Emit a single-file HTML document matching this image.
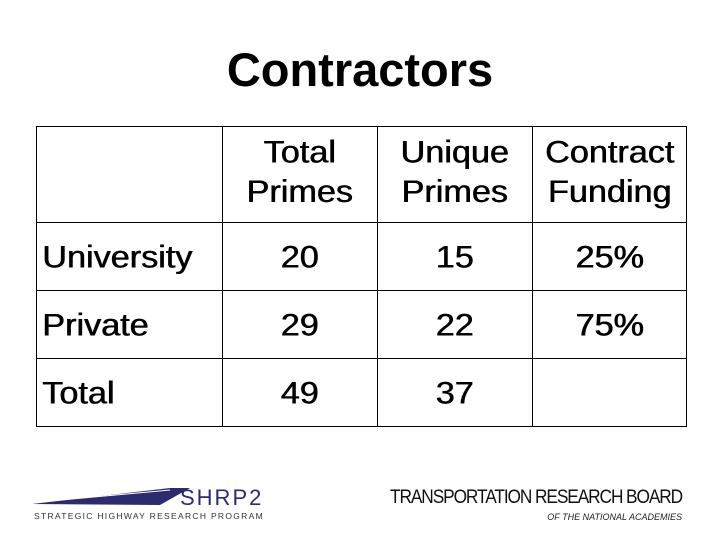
<!DOCTYPE html>
<html><head><meta charset="utf-8"><style>
body{margin:0;width:720px;height:540px;background:#fff;position:relative;overflow:hidden;font-family:"Liberation Sans",Arial,sans-serif;color:#000}
.t{position:absolute;left:0;width:720px;top:44px;text-align:center;font-size:47px;font-weight:bold;line-height:52px}
.c{position:absolute;font-size:30px;line-height:35px;text-align:center;transform:scaleX(1.14) scaleY(1.04);transform-origin:center;text-shadow:0.6px 0 0 #000}
.l{text-align:left;transform-origin:left}
.hl{position:absolute;height:1px;background:#000;left:36px;width:651px}
.vl{position:absolute;width:1px;background:#000;top:126px;height:301px}
.h{line-height:38px}
</style></head><body>
<div class="t">Contractors</div>
<div>
<div class="hl" style="top:126px"></div><div class="hl" style="top:222px"></div><div class="hl" style="top:290px"></div><div class="hl" style="top:358px"></div><div class="hl" style="top:426px"></div>
<div class="vl" style="left:36px"></div><div class="vl" style="left:222px"></div><div class="vl" style="left:377px"></div><div class="vl" style="left:532px"></div><div class="vl" style="left:686px"></div>
<div class="c h" style="left:222px;width:155px;top:135px">Total<br>Primes</div>
<div class="c h" style="left:377px;width:155px;top:135px">Unique<br>Primes</div>
<div class="c h" style="left:532px;width:155px;top:135px">Contract<br>Funding</div>
<div class="c l" style="left:42px;top:240px">University</div>
<div class="c" style="left:222px;width:155px;top:240px">20</div>
<div class="c" style="left:377px;width:155px;top:240px">15</div>
<div class="c" style="left:532px;width:155px;top:240px">25%</div>
<div class="c l" style="left:42px;top:308px">Private</div>
<div class="c" style="left:222px;width:155px;top:308px">29</div>
<div class="c" style="left:377px;width:155px;top:308px">22</div>
<div class="c" style="left:532px;width:155px;top:308px">75%</div>
<div class="c l" style="left:42px;top:376px">Total</div>
<div class="c" style="left:222px;width:155px;top:376px">49</div>
<div class="c" style="left:377px;width:155px;top:376px">37</div>
</div>
<svg style="position:absolute;left:30px;top:484px" width="240" height="40">
<polygon points="2,20 140,4 160,4 130,21" fill="#2e2a6e"/>
<line x1="20" y1="17" x2="140" y2="6" stroke="#fff" stroke-width="1"/>
<text x="150" y="21" font-family="Liberation Sans,sans-serif" font-size="22" fill="#2e2a6e" letter-spacing="2">SHRP2</text>
<text x="4" y="35" font-family="Liberation Sans,sans-serif" font-size="8.5" fill="#333" letter-spacing="1.3">STRATEGIC HIGHWAY RESEARCH PROGRAM</text>
</svg>
<div style="position:absolute;left:390px;top:487px;width:292px">
<div style="font-size:19px;letter-spacing:-1.2px;white-space:nowrap;color:#111;transform:scaleX(0.91);transform-origin:left">TRANSPORTATION RESEARCH BOARD</div>
<div style="font-size:9px;font-style:italic;text-align:right;color:#222;margin-top:3px">OF THE NATIONAL ACADEMIES</div>
</div>
</body></html>
